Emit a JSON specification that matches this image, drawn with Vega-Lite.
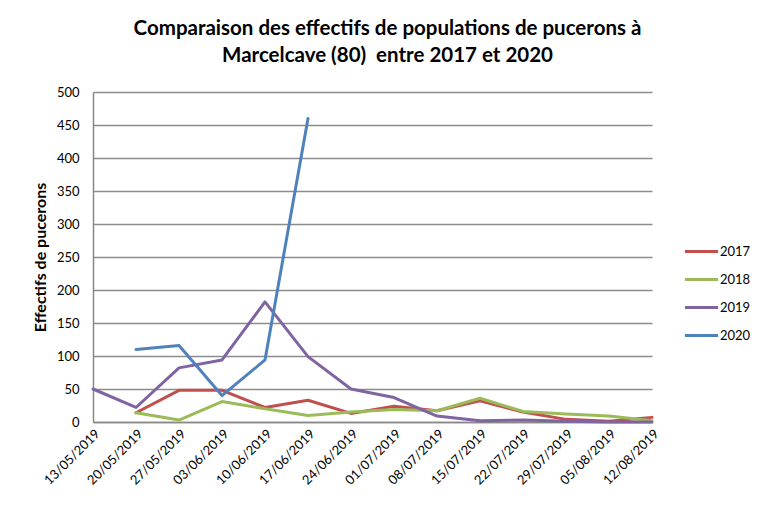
{
  "$schema": "https://vega.github.io/schema/vega-lite/v6.json",
  "width": 559,
  "height": 330,
  "autosize": {"type": "none"},
  "padding": {"left": 93, "top": 92, "right": 109, "bottom": 85},
  "background": "white",
  "config": {
    "font": "Lato",
    "view": {"stroke": null}
  },
  "title": {
    "text": ["Comparaison des effectifs de populations de pucerons à", "Marcelcave (80)\u00a0 entre 2017 et 2020"],
    "fontSize": 20.5,
    "fontWeight": "bold",
    "font": "Lato",
    "color": "#000000",
    "anchor": "middle",
    "dx": 15,
    "offset": 20,
    "lineHeight": 27
  },
  "data": {
    "values": [
      {"date": "20/05/2019", "year": "2017", "value": 14},
      {"date": "27/05/2019", "year": "2017", "value": 48},
      {"date": "03/06/2019", "year": "2017", "value": 48},
      {"date": "10/06/2019", "year": "2017", "value": 22},
      {"date": "17/06/2019", "year": "2017", "value": 33},
      {"date": "24/06/2019", "year": "2017", "value": 13},
      {"date": "01/07/2019", "year": "2017", "value": 24},
      {"date": "08/07/2019", "year": "2017", "value": 17},
      {"date": "15/07/2019", "year": "2017", "value": 32},
      {"date": "22/07/2019", "year": "2017", "value": 15},
      {"date": "29/07/2019", "year": "2017", "value": 4},
      {"date": "05/08/2019", "year": "2017", "value": 1},
      {"date": "12/08/2019", "year": "2017", "value": 7},
      {"date": "20/05/2019", "year": "2018", "value": 14},
      {"date": "27/05/2019", "year": "2018", "value": 3},
      {"date": "03/06/2019", "year": "2018", "value": 31},
      {"date": "10/06/2019", "year": "2018", "value": 20},
      {"date": "17/06/2019", "year": "2018", "value": 10},
      {"date": "24/06/2019", "year": "2018", "value": 15},
      {"date": "01/07/2019", "year": "2018", "value": 19},
      {"date": "08/07/2019", "year": "2018", "value": 17},
      {"date": "15/07/2019", "year": "2018", "value": 36},
      {"date": "22/07/2019", "year": "2018", "value": 16},
      {"date": "29/07/2019", "year": "2018", "value": 12},
      {"date": "05/08/2019", "year": "2018", "value": 9},
      {"date": "12/08/2019", "year": "2018", "value": 2},
      {"date": "13/05/2019", "year": "2019", "value": 50},
      {"date": "20/05/2019", "year": "2019", "value": 22},
      {"date": "27/05/2019", "year": "2019", "value": 82},
      {"date": "03/06/2019", "year": "2019", "value": 94},
      {"date": "10/06/2019", "year": "2019", "value": 182},
      {"date": "17/06/2019", "year": "2019", "value": 99},
      {"date": "24/06/2019", "year": "2019", "value": 50},
      {"date": "01/07/2019", "year": "2019", "value": 37},
      {"date": "08/07/2019", "year": "2019", "value": 9},
      {"date": "15/07/2019", "year": "2019", "value": 2},
      {"date": "22/07/2019", "year": "2019", "value": 3},
      {"date": "29/07/2019", "year": "2019", "value": 1},
      {"date": "05/08/2019", "year": "2019", "value": 0},
      {"date": "12/08/2019", "year": "2019", "value": 0},
      {"date": "20/05/2019", "year": "2020", "value": 110},
      {"date": "27/05/2019", "year": "2020", "value": 116},
      {"date": "03/06/2019", "year": "2020", "value": 40},
      {"date": "10/06/2019", "year": "2020", "value": 94},
      {"date": "17/06/2019", "year": "2020", "value": 460}
    ]
  },
  "mark": {"type": "line", "strokeWidth": 3, "strokeCap": "round", "strokeJoin": "round"},
  "encoding": {
    "x": {
      "field": "date",
      "type": "ordinal",
      "sort": ["13/05/2019", "20/05/2019", "27/05/2019", "03/06/2019", "10/06/2019", "17/06/2019", "24/06/2019", "01/07/2019", "08/07/2019", "15/07/2019", "22/07/2019", "29/07/2019", "05/08/2019", "12/08/2019"],
      "scale": {"type": "point", "padding": 0},
      "axis": {
        "title": null,
        "labelAngle": -45,
        "labelAlign": "right",
        "labelBaseline": "top",
        "labelFontSize": 13,
        "labelColor": "#000000",
        "labelPadding": 5,
        "ticks": false,
        "domainColor": "#888888",
        "domainWidth": 1.5,
        "grid": false
      }
    },
    "y": {
      "field": "value",
      "type": "quantitative",
      "scale": {"domain": [0, 500], "nice": false},
      "axis": {
        "title": "Effectifs de pucerons",
        "titleFontSize": 16,
        "titleFontWeight": "bold",
        "titleColor": "#000000",
        "titlePadding": 8,
        "values": [0, 50, 100, 150, 200, 250, 300, 350, 400, 450, 500],
        "labelFontSize": 13,
        "labelColor": "#000000",
        "labelPadding": 14,
        "ticks": false,
        "domainColor": "#888888",
        "domainWidth": 1.5,
        "grid": true,
        "gridColor": "#8c8c8c",
        "gridWidth": 1.5
      }
    },
    "color": {
      "field": "year",
      "type": "nominal",
      "scale": {"domain": ["2017", "2018", "2019", "2020"], "range": ["#C0504D", "#9BBB59", "#8064A2", "#4F81BD"]},
      "legend": {
        "title": null,
        "orient": "none",
        "legendX": 590,
        "legendY": 141,
        "symbolType": "stroke",
        "symbolSize": 1100,
        "symbolStrokeWidth": 3,
        "labelFontSize": 13,
        "labelColor": "#000000",
        "labelOffset": 0,
        "rowPadding": 2
      }
    }
  }
}
